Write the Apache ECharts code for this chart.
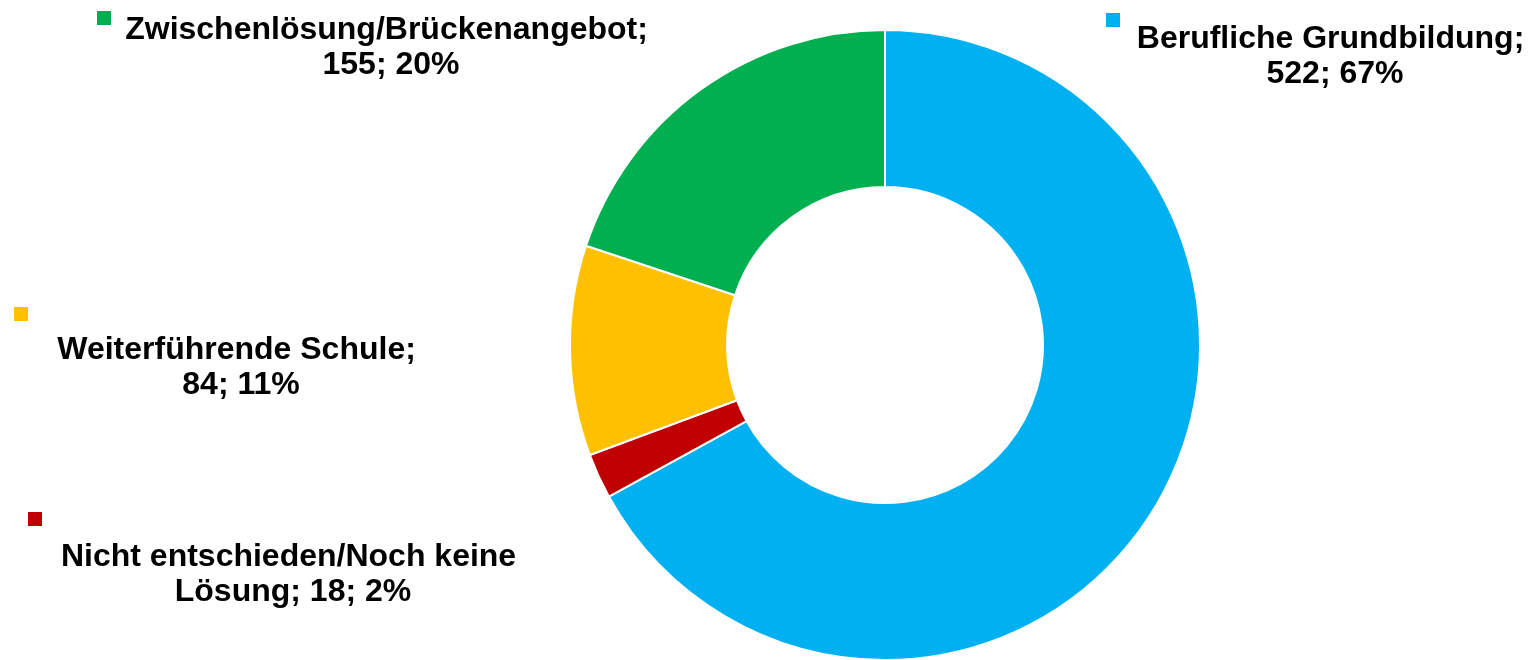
<!DOCTYPE html>
<html>
<head>
<meta charset="utf-8">
<script src="https://cdn.jsdelivr.net/npm/echarts@6/dist/echarts.min.js"></script>
<style>
  html, body { margin: 0; padding: 0; background: #fff; }
  #chart { width: 1530px; height: 660px; }
</style>
</head>
<body>
<div id="chart"></div>
<script>
// Daten (Reihenfolge im Uhrzeigersinn ab 12 Uhr)
const categories = [
  'Berufliche Grundbildung',
  'Nicht entschieden/Noch keine Lösung',
  'Weiterführende Schule',
  'Zwischenlösung/Brückenangebot'
];
const values = [522, 18, 84, 155];
const colors = ['#00B0F0', '#C00000', '#FFC000', '#00B050'];

// Lage der Beschriftungen: Mitte x, Mitte y, Umbruchbreite
const labelPos = [
  [1335, 57, 440],
  [293, 575, 500],
  [241, 368, 400],
  [391, 48, 570]
];
// Lage der Legendensymbole (links, oben)
const keyPos = [
  [1106, 13],
  [28, 512],
  [14, 307],
  [97, 11]
];

const font = '"Liberation Sans", Arial, sans-serif';

let mychart = echarts.init(document.getElementById('chart'));

mychart.setOption({
  animation: false,
  color: colors,
  // je Kategorie eine eigene Legende, nur das Symbol
  legend: categories.map((name, i) => ({
    data: [name],
    left: keyPos[i][0],
    top: keyPos[i][1],
    padding: 0,
    itemWidth: 14,
    itemHeight: 14,
    itemGap: 0,
    icon: 'rect',
    selectedMode: false,
    itemStyle: { borderWidth: 0 },
    formatter: () => '',
    textStyle: { fontSize: 8 }
  })),
  series: [
    {
      type: 'pie',
      center: [885, 345],
      radius: [158, 315],
      startAngle: 90,
      clockwise: true,
      avoidLabelOverlap: false,
      emphasis: { disabled: true },
      itemStyle: { borderColor: '#fff', borderWidth: 2 },
      label: {
        show: true,
        position: 'inside',
        color: '#000',
        fontFamily: font,
        fontWeight: 'bold',
        fontSize: 32,
        lineHeight: 35,
        overflow: 'break',
        formatter: p => p.name + '; ' + p.value + '; ' + Math.round(p.percent) + '%'
      },
      labelLine: { show: false },
      labelLayout: params => {
        const p = labelPos[params.dataIndex];
        return { x: p[0], y: p[1], width: p[2], align: 'center', verticalAlign: 'middle' };
      },
      data: categories.map((name, i) => ({ name: name, value: values[i] }))
    }
  ]
});
</script>
</body>
</html>
